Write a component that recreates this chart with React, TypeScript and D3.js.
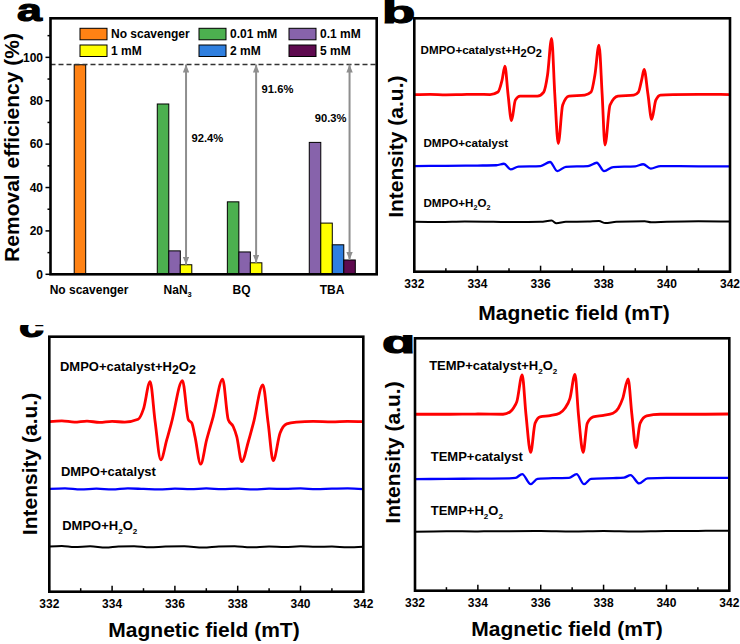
import * as d3 from "d3";

const FONT = "'Liberation Sans', Arial, Helvetica, sans-serif";

// ---------- panel a: scavenger experiment ----------
const seriesNames = ["No scavenger", "0.01 mM", "0.1 mM", "1 mM", "2 mM", "5 mM"];
const seriesColors = ["#ff8214", "#4cb04f", "#8763ab", "#ffff00", "#2f7fdf", "#5e0a4f"];
const categories = ["No scavenger", "NaN_3", "BQ", "TBA"];
const categoryPos = [3.35, 11.05, 16.6, 24.47];
const groupStart = [2.06, 9.28, 15.37, 22.49];
const groupSeries = [[0], [1, 2, 3], [1, 2, 3], [2, 3, 4, 5]];
const groupValues = [[96.6], [78.5, 10.8, 4.4], [33.4, 10.3, 5.3], [60.8, 23.6, 13.6, 6.6]];
const referenceValue = 96.7;
const dropLabels = ["92.4%", "91.6%", "90.3%"];
const dropLabelY = [62.7, 85.4, 71.9];
const dropLabelSide = ["right", "right", "left"];
const removalTicks = [0, 20, 40, 60, 80, 100];

// ---------- EPR spectra: [field mT, intensity a.u. relative to trace baseline] ----------
const fieldTicks = [332, 334, 336, 338, 340, 342];

const bRed = [
  [332, 0], [332.5, 0.1], [333, -0.1], [333.5, 0], [334, 0.1], [334.4, 0],
  [334.65, 1.0], [334.78, 5.7], [334.87, 11.2], [334.97, 0], [335.08, -10.3], [335.2, -2.2],
  [335.35, -0.6], [335.9, -0.6], [336.1, 1.0], [336.22, 7.7], [336.35, 22.2], [336.45, 0.2],
  [336.56, -19.3], [336.7, -4.1], [336.9, -0.6], [337.4, -0.2], [337.6, 1.0], [337.72, 7.7],
  [337.85, 19.5], [337.95, 0.2], [338.04, -19.9], [338.2, -4.1], [338.45, -0.6], [338.95, -0.2],
  [339.1, 1.0], [339.2, 5.7], [339.28, 9.9], [339.4, 0.2], [339.52, -9.8], [339.65, -2.2],
  [339.8, -0.2], [340.2, 0], [341, 0.1], [342, 0],
];
const bBlue = [
  [332, 0], [333, 0.1], [334, 0.2], [334.6, 0.3], [334.84, 0.9], [335.05, -1.3], [335.3, -0.2],
  [336, 0], [336.3, 1.6], [336.53, -2.0], [336.8, -0.3], [337.5, 0], [337.78, 1.3], [338.01, -2.0],
  [338.3, -0.4], [339, -0.1], [339.25, 0.7], [339.49, -1.0], [339.8, 0], [341, -0.1], [342, -0.1],
];
const bBlack = [
  [332, 0], [332.8, -0.1], [333.6, 0.1], [334.5, 0], [335.2, -0.1], [336, 0], [336.35, 0.5],
  [336.5, -0.6], [336.8, 0], [337.5, 0.1], [337.85, 0.3], [338.05, -0.5], [338.4, 0],
  [339.3, 0.2], [339.5, -0.2], [340, 0], [341, 0.2], [342, 0.1],
];
const bOffsets = [69.9, 41.7, 19.7];
const bLabels = ["DMPO+catalyst+H{2}O{2}", "DMPO+catalyst", "DMPO+H_2O_2"];

const cRed = [
  [332, 0], [332.4, 0.3], [332.8, -0.2], [333.2, 0.2], [333.6, -0.3], [334, 0.1], [334.4, -0.2],
  [334.83, 0.9], [335.0, 5.0], [335.21, 15.7], [335.37, 0], [335.55, -15.0], [335.74, -7.2],
  [335.9, 0], [336.24, 16.1], [336.43, 0.7], [336.54, -0.6], [336.64, -5.9], [336.82, -16.7],
  [337.01, -7.2], [337.22, 2.0], [337.52, 16.7], [337.7, 0.7], [337.86, -2.0], [337.97, -5.9],
  [338.13, -15.7], [338.34, -7.8], [338.5, -0.6], [338.8, 14.4], [338.97, -0.6], [339.13, -15.3],
  [339.35, -4.5], [339.56, -0.9], [339.88, -0.2], [340.4, 0.1], [341, -0.1], [341.5, 0.1], [342, 0],
];
const cBlue = [
  [332, 0], [332.5, 0.2], [333, -0.2], [333.5, 0.1], [334, -0.2], [334.5, 0.2], [335, 0],
  [335.5, -0.2], [336, 0.1], [336.5, -0.1], [337, 0.2], [337.5, -0.1], [338, 0.1], [338.5, -0.2],
  [339, 0.1], [339.5, 0], [340, 0.2], [340.5, -0.1], [341, 0.1], [341.5, 0.2], [342, -0.1],
];
const cBlack = [
  [332, 0.1], [332.4, 0.3], [332.8, -0.1], [333.3, 0.2], [333.8, -0.3], [334.2, 0.1], [334.7, 0.2],
  [335.2, -0.2], [335.7, 0.1], [336.3, 0.2], [336.9, -0.3], [337.4, 0.1], [337.9, 0.2], [338.4, -0.2],
  [339, 0.1], [339.5, -0.1], [340, 0.2], [340.5, 0], [341, 0.1], [341.5, -0.2], [342, 0],
];
const cOffsets = [66.7, 40.3, 17.6];
const cLabels = ["DMPO+catalyst+H{2}O{2}", "DMPO+catalyst", "DMPO+H_2O_2"];

const dRed = [
  [332, 0], [333, 0], [334, 0.1], [334.8, 0], [335.02, 0.9], [335.15, 2.8], [335.24, 5.0],
  [335.41, 15.6], [335.53, 0], [335.68, -15.1], [335.82, -3.6], [335.98, -1.0], [336.3, -0.5],
  [336.6, 0.4], [336.77, 2.4], [336.93, 6.3], [337.09, 15.8], [337.2, 0], [337.35, -15.1],
  [337.48, -3.6], [337.67, -1.0], [338.0, -0.4], [338.3, 0.4], [338.47, 2.4], [338.61, 6.3],
  [338.78, 14.0], [338.9, 0], [339.03, -13.2], [339.16, -3.6], [339.37, -0.6], [339.8, 0],
  [341, 0], [342, 0.1],
];
const dBlue = [
  [332, -0.3], [333, -0.2], [334, -0.1], [335, 0], [335.2, 0.2], [335.41, 1.7], [335.68, -2.3],
  [335.9, -0.2], [336.5, 0.1], [336.9, 0.2], [337.14, 1.7], [337.38, -2.3], [337.6, -0.2],
  [338.3, 0.1], [338.65, 0.3], [338.86, 1.3], [339.13, -2.0], [339.4, 0], [340, 0.2], [341, 0.2], [342, 0.2],
];
const dBlack = [
  [332, -0.2], [333, 0], [334, -0.1], [335, 0], [336, 0.1], [337, -0.1], [338, 0.1],
  [339, -0.1], [340, 0.1], [341, 0.1], [342, 0.2],
];
const dOffsets = [69.9, 44.5, 23.6];
const dLabels = ["TEMP+catalyst+H_2O_2", "TEMP+catalyst", "TEMP+H_2O_2"];

const traceColors = ["#ff0000", "#0000ff", "#000000"];
const traceWidths = [2.8, 2.3, 2];

// "_2" small subscript, "{2}" full-size lowered digit
function rich(s: string, fs: number) {
  const parts = s.split(/(_\d|\{\d\})/).filter((p) => p !== "");
  let cur = 0;
  return parts.map((p, i) => {
    let target = 0;
    let size = fs;
    let txt = p;
    if (p.startsWith("_")) {
      target = fs * 0.28;
      size = fs * 0.62;
      txt = p.slice(1);
    } else if (p.startsWith("{")) {
      target = fs * 0.25;
      size = fs * 0.95;
      txt = p.slice(1, -1);
    }
    const dy = target - cur;
    cur = target;
    return (
      <tspan key={i} dy={dy} fontSize={size}>
        {txt}
      </tspan>
    );
  });
}

function PanelA() {
  const box = { x0: 50.5, x1: 376.7, y0: 18.3, y1: 274.3 };
  const x = d3.scaleLinear().domain([0, 28.35]).range([box.x0, box.x1]);
  const y = d3.scaleLinear().domain([0, 118]).range([box.y1, box.y0]);
  const bw = x(1) - x(0);
  const minor = d3.range(10, 111, 20);

  const arrows = [1, 2, 3].map((g, k) => {
    const n = groupValues[g].length;
    const cx = x(groupStart[g] + n - 0.5);
    return { cx, top: y(referenceValue), bottom: y(groupValues[g][n - 1]), k };
  });

  const legendCols = [80, 199, 289];
  const legendRows = [28.3, 45];

  return (
    <g fontFamily={FONT} fontWeight="bold">
      {groupValues.map((vals, g) =>
        vals.map((v, i) => (
          <rect
            key={`${g}-${i}`}
            x={x(groupStart[g] + i)}
            y={y(v)}
            width={bw}
            height={y(0) - y(v)}
            fill={seriesColors[groupSeries[g][i]]}
            stroke="#000"
            strokeWidth={1}
          />
        ))
      )}
      <line x1={box.x0} x2={box.x1} y1={y(referenceValue)} y2={y(referenceValue)} stroke="#333" strokeWidth={1.3} strokeDasharray="5,3" />
      {arrows.map((a) => (
        <g key={a.k}>
          <line x1={a.cx} x2={a.cx} y1={a.top} y2={a.bottom} stroke="#8e8e8e" strokeWidth={2} markerStart="url(#ah)" markerEnd="url(#ah)" />
          <text
            x={dropLabelSide[a.k] === "right" ? a.cx + 5.5 : a.cx - 3}
            y={y(dropLabelY[a.k]) + 4}
            fontSize={11.2}
            textAnchor={dropLabelSide[a.k] === "right" ? "start" : "end"}
          >
            {dropLabels[a.k]}
          </text>
        </g>
      ))}
      {seriesNames.map((name, i) => {
        const cx = legendCols[i % 3];
        const ry = legendRows[Math.floor(i / 3)];
        return (
          <g key={name}>
            <rect x={cx} y={ry} width={27} height={11.5} fill={seriesColors[i]} stroke="#000" strokeWidth={1} />
            <text x={cx + 31} y={ry + 10} fontSize={12}>
              {name}
            </text>
          </g>
        );
      })}
      {removalTicks.map((t) => (
        <g key={t}>
          <line x1={box.x0 - 5} x2={box.x0} y1={y(t)} y2={y(t)} stroke="#000" strokeWidth={1.5} />
          <text x={box.x0 - 7.5} y={y(t) + 4.3} fontSize={12} textAnchor="end">
            {t}
          </text>
        </g>
      ))}
      {minor.map((t) => (
        <line key={t} x1={box.x0 - 3} x2={box.x0} y1={y(t)} y2={y(t)} stroke="#000" strokeWidth={1.5} />
      ))}
      <rect x={box.x0} y={box.y0} width={box.x1 - box.x0} height={box.y1 - box.y0} fill="none" stroke="#000" strokeWidth={2.6} />
      {categories.map((c, i) => (
        <text key={c} x={x(categoryPos[i])} y={293.6} fontSize={12} textAnchor="middle">
          {rich(c, 12)}
        </text>
      ))}
      <text transform={`translate(18.5,147.5) rotate(-90)`} fontSize={21} textAnchor="middle">
        Removal efficiency (%)
      </text>
    </g>
  );
}

type Box = { x0: number; x1: number; y0: number; y1: number };

function EprPanel(props: {
  box: Box;
  traces: number[][][];
  offsets: number[];
  labels: string[];
  labelAt: number[][];
  fs: number;
  yTitle: number[];
  xTitle: number[];
  xTitleClip?: string;
}) {
  const { box, traces, offsets, labels, labelAt, fs, yTitle, xTitle, xTitleClip } = props;
  const x = d3.scaleLinear().domain([332, 342]).range([box.x0, box.x1]);
  const y = d3.scaleLinear().domain([0, 100]).range([box.y1, box.y0]);
  const minor = d3.range(333, 342, 2);
  return (
    <g fontFamily={FONT} fontWeight="bold">
      {traces.map((tr, i) => {
        const line = d3
          .line<number[]>()
          .x((d) => x(d[0]))
          .y((d) => y(d[1] + offsets[i]))
          .curve(d3.curveMonotoneX);
        return (
          <path key={i} d={line(tr) || ""} fill="none" stroke={traceColors[i]} strokeWidth={traceWidths[i]} strokeLinejoin="round" />
        );
      })}
      {labels.map((l, i) => (
        <text key={l} x={x(labelAt[i][0])} y={y(labelAt[i][1])} fontSize={fs}>
          {rich(l, fs)}
        </text>
      ))}
      {fieldTicks.map((t) => (
        <g key={t}>
          <line x1={x(t)} x2={x(t)} y1={box.y1} y2={box.y1 - 6} stroke="#000" strokeWidth={1.5} />
          <text x={x(t)} y={box.y1 + 16.5} fontSize={12} textAnchor="middle">
            {t}
          </text>
        </g>
      ))}
      {minor.map((t) => (
        <line key={t} x1={x(t)} x2={x(t)} y1={box.y1} y2={box.y1 - 3.5} stroke="#000" strokeWidth={1.5} />
      ))}
      <rect x={box.x0} y={box.y0} width={box.x1 - box.x0} height={box.y1 - box.y0} fill="none" stroke="#000" strokeWidth={2.6} />
      <text transform={`translate(${yTitle[0]},${yTitle[1]}) rotate(-90)`} fontSize={21} textAnchor="middle">
        Intensity (a.u.)
      </text>
      <text x={xTitle[0]} y={xTitle[1]} fontSize={21} textAnchor="middle" clipPath={xTitleClip}>
        Magnetic field (mT)
      </text>
    </g>
  );
}

function Letter({ ch, x, y, sx, clip }: { ch: string; x: number; y: number; sx: number; clip?: string }) {
  return (
    <g clipPath={clip}>
      <text
        transform={`translate(${x},${y}) scale(${sx},1)`}
        fontFamily={FONT}
        fontWeight="bold"
        fontSize={32}
        stroke="#000"
        strokeWidth={1.2}
      >
        {ch}
      </text>
    </g>
  );
}

export default function App() {
  return (
    <svg width={740} height={644} style={{ position: "absolute", left: 0, top: 0, background: "#fff" }}>
      <defs>
        <marker id="ah" viewBox="0 0 10 8" refX={10} refY={4} markerWidth={8} markerHeight={6.4} markerUnits="userSpaceOnUse" orient="auto-start-reverse">
          <path d="M0,0 L10,4 L0,8 z" fill="#8e8e8e" />
        </marker>
        <clipPath id="clipTop">
          <rect x={0} y={0} width={740} height={325} />
        </clipPath>
        <clipPath id="clipC">
          <rect x={0} y={325} width={370} height={319} />
        </clipPath>
        <clipPath id="clipD">
          <rect x={370} y={335} width={370} height={309} />
        </clipPath>
      </defs>
      <PanelA />
      <EprPanel
        box={{ x0: 414.3, x1: 730, y0: 18.3, y1: 271.7 }}
        traces={[bRed, bBlue, bBlack]}
        offsets={bOffsets}
        labels={bLabels}
        labelAt={[[332.2, 85.9], [332.29, 49.2], [332.29, 25.5]]}
        fs={11.6}
        yTitle={[403, 146.7]}
        xTitle={[574, 320]}
        xTitleClip="url(#clipTop)"
      />
      <EprPanel
        box={{ x0: 49.3, x1: 363.3, y0: 336.7, y1: 591.7 }}
        traces={[cRed, cBlue, cBlack]}
        offsets={cOffsets}
        labels={cLabels}
        labelAt={[[332.34, 86.5], [332.37, 45.4], [332.41, 24.2]]}
        fs={13}
        yTitle={[36.7, 464]}
        xTitle={[204, 637]}
      />
      <EprPanel
        box={{ x0: 415, x1: 729.3, y0: 338.3, y1: 590.7 }}
        traces={[dRed, dBlue, dBlack]}
        offsets={dOffsets}
        labels={dLabels}
        labelAt={[[332.45, 87.4], [332.5, 51.4], [332.5, 30.0]]}
        fs={13}
        yTitle={[400, 452.5]}
        xTitle={[567, 636]}
      />
      <Letter ch="a" x={17} y={20.7} sx={1.4} />
      <Letter ch="b" x={382} y={23} sx={1.7} />
      <Letter ch="c" x={19} y={337} sx={1.4} clip="url(#clipC)" />
      <Letter ch="d" x={382} y={353} sx={1.7} clip="url(#clipD)" />
    </svg>
  );
}
